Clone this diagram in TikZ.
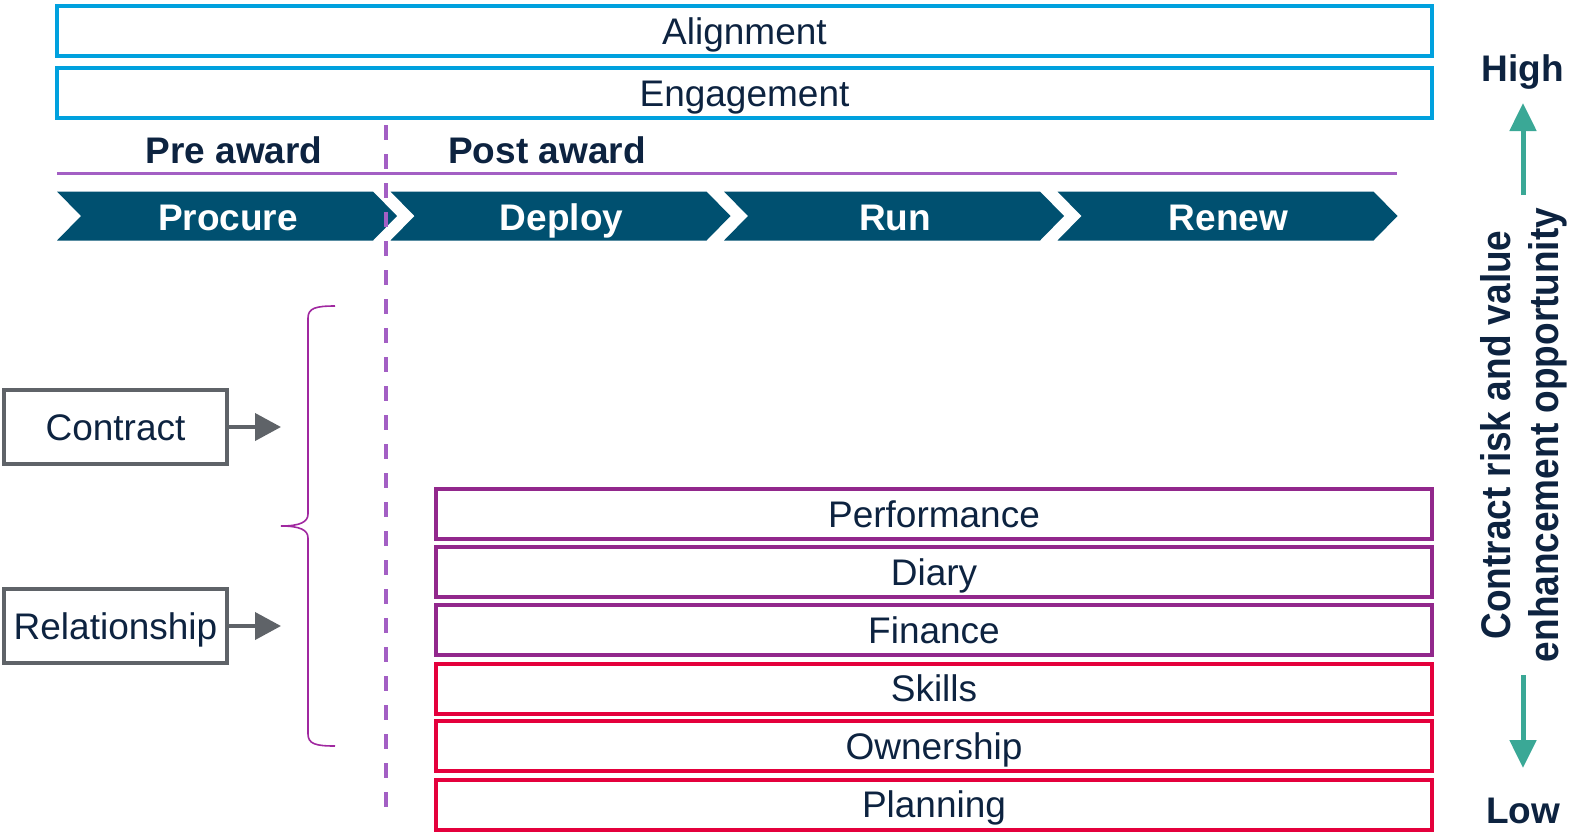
\documentclass[tikz,border=0pt]{standalone}
\usepackage{fontspec}
\setmainfont{Liberation Sans}
\usetikzlibrary{arrows.meta}
\definecolor{navy}{RGB}{13,35,64}
\definecolor{blueline}{RGB}{0,161,222}
\definecolor{chevcol}{RGB}{0,80,112}
\definecolor{lilac}{RGB}{163,95,196}
\definecolor{boxpurple}{RGB}{146,40,140}
\definecolor{bracecol}{RGB}{160,40,160}
\definecolor{boxred}{RGB}{228,0,60}
\definecolor{grayline}{RGB}{95,99,104}
\definecolor{teal}{RGB}{58,168,150}
\tikzset{
  txt/.style={font=\fontsize{18.5}{22}\selectfont, text=navy, text height=13.3pt, text depth=0pt},
  boldtxt/.style={font=\fontsize{18.5}{22}\selectfont\bfseries, text=navy, text height=13.3pt, text depth=0pt, inner sep=0pt},
  topbox/.style={draw=blueline, line width=2pt, minimum width=687.5pt, minimum height=25pt, inner sep=0pt, txt},
  lowbox/.style={line width=2pt, minimum width=498pt, minimum height=25pt, inner sep=0pt, txt},
  sidebox/.style={draw=grayline, line width=2pt, minimum width=111.5pt, minimum height=37pt, inner sep=0pt, txt},
  chevtxt/.style={font=\fontsize{18.5}{22}\selectfont\bfseries, text=white, text height=13.3pt, text depth=0pt, inner sep=0pt},
  grayarrow/.style={draw=grayline, line width=2pt, -{Triangle[length=13pt,width=13.5pt]}},
  tealarrow/.style={draw=teal, line width=2.5pt, -{Triangle[length=14pt,width=13pt]}}
}
\begin{document}
\begin{tikzpicture}[x=0.5pt,y=-0.5pt]
\useasboundingbox (0,0) rectangle (1570,832);
% top boxes
\node[topbox] (align) at (744.5,31) {Alignment};
\node[topbox] (engage) at (744.5,93) {Engagement};
% phase labels
\node[boldtxt] (pre) at (234,150) {Pre award};
\node[boldtxt] (post) at (547,150) {Post award};
\coordinate (hlA) at (57,173);
\coordinate (hlB) at (1397,173);
\draw[lilac, line width=1.5pt] (hlA) -- (hlB);
% chevrons
\foreach \i/\lab/\nm in {0/Procure/procure,1/Deploy/deploy,2/Run/run,3/Renew/renew}{
  \pgfmathsetmacro{\L}{57+333.5*\i}
  \fill[chevcol] (\L,191.5) -- (\L+316,191.5) -- (\L+340,216) -- (\L+316,240.5) -- (\L,240.5) -- (\L+24,216) -- cycle;
  \node[chevtxt] (\nm) at (\L+171,217) {\lab};
}
% dashed divider
\coordinate (dtop) at (386,125);
\coordinate (dbot) at (386,812);
\draw[lilac, line width=2pt, dash pattern=on 7.5pt off 7pt] (dtop) -- (dbot);
% side boxes
\node[sidebox] (contract) at (115.5,427) {Contract};
\node[sidebox] (relation) at (115.5,626) {Relationship};
\coordinate (cend) at (281,427);
\coordinate (rend) at (281,626);
\draw[grayarrow] (contract.east) -- (cend);
\draw[grayarrow] (relation.east) -- (rend);
% brace
\draw[bracecol, line width=0.8pt] (335,306) .. controls (316,306) and (308,308) .. (308,318) -- (308,514) .. controls (308,522) and (300,526) .. (281,526) .. controls (300,526) and (308,530) .. (308,538) -- (308,734) .. controls (308,744) and (316,746) .. (335,746);
% lower boxes
\node[lowbox, draw=boxpurple] (perf) at (934,514) {Performance};
\node[lowbox, draw=boxpurple] (diary) at (934,572) {Diary};
\node[lowbox, draw=boxpurple] (fin) at (934,630) {Finance};
\node[lowbox, draw=boxred] (skills) at (934,688.5) {Skills};
\node[lowbox, draw=boxred] (own) at (934,746) {Ownership};
\node[lowbox, draw=boxred] (plan) at (934,804.5) {Planning};
% right scale
\node[boldtxt] (high) at (1523,68) {High};
\node[boldtxt] (low) at (1523,810) {Low};
\node[rotate=90, align=center, text=navy, inner sep=0pt, font=\fontsize{18.5}{24}\selectfont\bfseries] (axis) at (1524,435) {\scalebox{1}[1.12]{Contract risk and value}\\\scalebox{1}[1.12]{enhancement opportunity}};
\coordinate (upS) at (1523,195);
\coordinate (upE) at (1523,103);
\coordinate (dnS) at (1523,675);
\coordinate (dnE) at (1523,768);
\draw[tealarrow] (upS) -- (upE);
\draw[tealarrow] (dnS) -- (dnE);
\end{tikzpicture}
\end{document}
